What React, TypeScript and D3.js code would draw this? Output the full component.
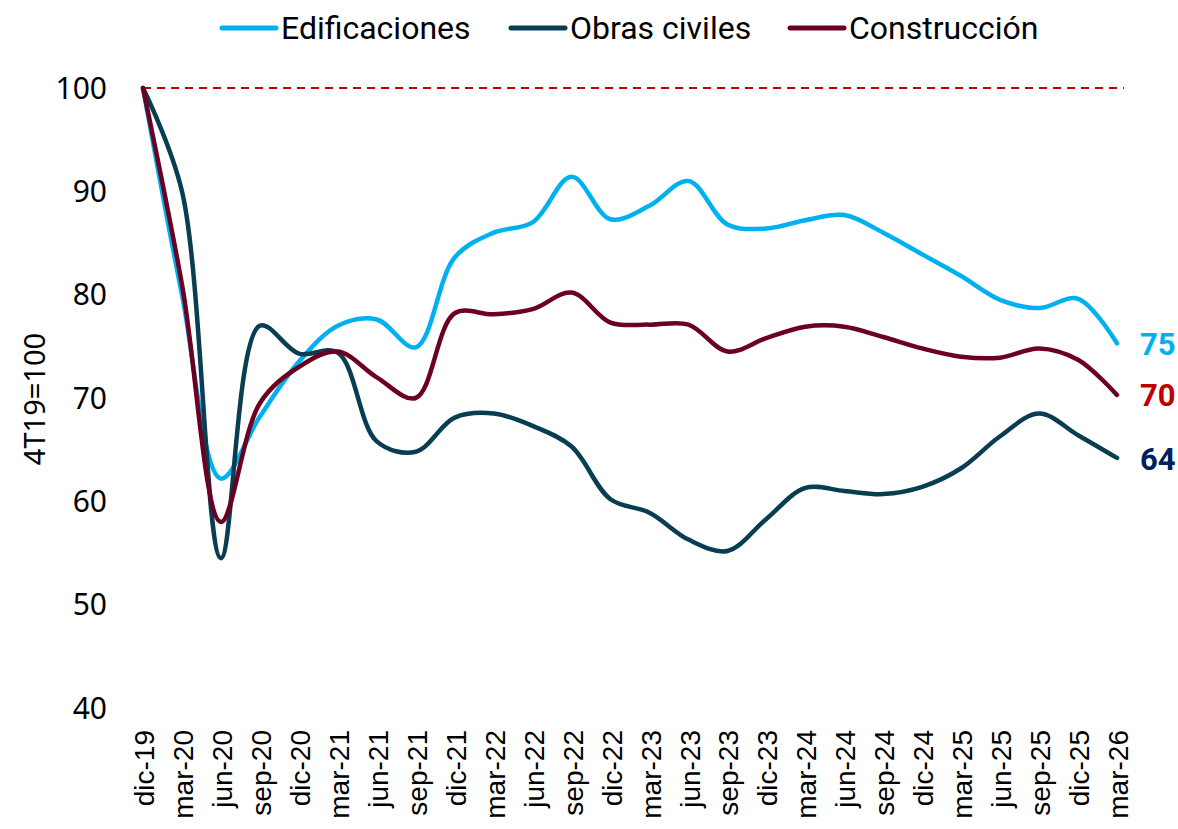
import React from 'react'
import * as d3 from 'd3'

const quarters = [
  'dic-19', 'mar-20', 'jun-20', 'sep-20', 'dic-20', 'mar-21', 'jun-21', 'sep-21',
  'dic-21', 'mar-22', 'jun-22', 'sep-22', 'dic-22', 'mar-23', 'jun-23', 'sep-23',
  'dic-23', 'mar-24', 'jun-24', 'sep-24', 'dic-24', 'mar-25', 'jun-25', 'sep-25',
  'dic-25', 'mar-26',
]

const edificaciones = [
  100, 80, 62.2, 68.2, 73.5, 77.0, 77.6, 74.9, 83.6, 86.0, 87.0, 91.4, 87.3,
  88.6, 91.0, 86.8, 86.4, 87.2, 87.7, 86.0, 83.9, 81.8, 79.5, 78.7, 79.6, 75.3,
]

const obrasCiviles = [
  100, 90, 54.5, 77.0, 74.3, 74.4, 65.8, 64.8, 68.1, 68.5, 67.3, 65.3, 60.2,
  58.9, 56.3, 55.2, 58.3, 61.3, 61.0, 60.7, 61.4, 63.2, 66.3, 68.5, 66.4, 64.2,
]

const construccion = [
  100, 81, 58.0, 69.5, 73.0, 74.5, 72.0, 70.0, 78.2, 78.1, 78.6, 80.2, 77.3,
  77.1, 77.1, 74.5, 75.8, 76.9, 76.9, 75.9, 74.8, 74.0, 73.9, 74.8, 73.7, 70.3,
]

const yTicks = [40, 50, 60, 70, 80, 90, 100]

const series = [
  { name: 'Edificaciones', values: edificaciones, color: '#00B0F0', labelColor: '#00B0F0', legendX: 222, labelY: 355 },
  { name: 'Obras civiles', values: obrasCiviles, color: '#083D52', labelColor: '#002060', legendX: 511, labelY: 470 },
  { name: 'Construcción', values: construccion, color: '#6B0020', labelColor: '#C00000', legendX: 790, labelY: 406 },
]

export default function App() {
  const width = 1178
  const height = 829

  const x = d3.scalePoint<string>().domain(quarters).range([143, 1117])
  const y = d3.scaleLinear().domain([40, 100]).range([708, 88])

  const line = d3.line<number>()
    .x((_, i) => x(quarters[i]) as number)
    .y(d => y(d))
    .curve(d3.curveCatmullRom.alpha(0.5))

  return (
    <svg width={width} height={height} style={{ position: 'absolute', left: 0, top: 0, background: '#fff' }}>
      {/* legend */}
      {series.map(s => (
        <g key={s.name}>
          <line x1={s.legendX} x2={s.legendX + 54} y1={28} y2={28}
            stroke={s.color} strokeWidth={5} strokeLinecap="round" />
          <text x={s.legendX + 59} y={39} fontFamily="Roboto" fontSize={32} fill="#000">{s.name}</text>
        </g>
      ))}

      {/* y axis ticks */}
      {yTicks.map(t => (
        <text key={t} x={107} y={y(t)} dy="0.36em" textAnchor="end"
          fontFamily="Noto Sans" fontSize={30} fill="#000">{t}</text>
      ))}
      <text transform={`translate(45,399) rotate(-90)`} textAnchor="middle"
        fontFamily="Noto Sans" fontSize={29} fill="#000">4T19=100</text>

      {/* x axis labels */}
      {quarters.map(q => (
        <text key={q} transform={`translate(${(x(q) as number) + 1},730) rotate(-90)`}
          textAnchor="end" dy="0.36em" fontFamily="Liberation Sans" fontSize={28} fill="#000">{q}</text>
      ))}

      {/* reference line at 100 */}
      <line x1={143} x2={1124} y1={y(100)} y2={y(100)} stroke="#C00000" strokeWidth={2} strokeDasharray="8,6" />

      {/* series */}
      {series.map(s => (
        <path key={s.name} d={line(s.values) || ''} fill="none" stroke={s.color}
          strokeWidth={4.5} strokeLinecap="round" strokeLinejoin="round" />
      ))}

      {/* end labels */}
      {series.map(s => (
        <text key={s.name} x={1140} y={s.labelY} fontFamily="Roboto" fontWeight="bold"
          fontSize={31} fill={s.labelColor}>{Math.round(s.values[s.values.length - 1])}</text>
      ))}
    </svg>
  )
}
